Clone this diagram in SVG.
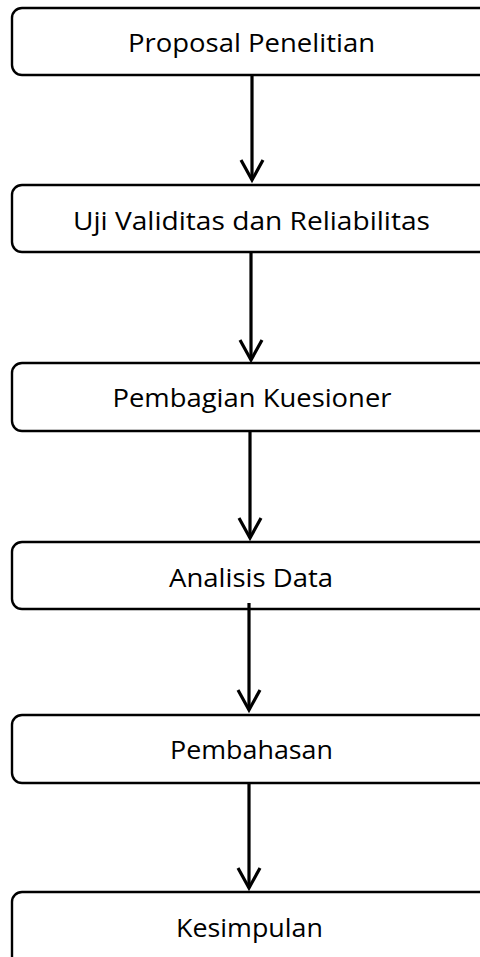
<svg xmlns="http://www.w3.org/2000/svg" width="480" height="957" viewBox="0 0 480 957">
<style>
.box{fill:#fff;stroke:#000;stroke-width:2.4}
.lbl{font-family:"Open Sans","Noto Sans","Liberation Sans",sans-serif;font-size:26px;fill:#000;text-anchor:middle}
.conn{fill:none;stroke:#000;stroke-width:3.2}
</style>
<defs>
<marker id="arr" markerUnits="userSpaceOnUse" markerWidth="30" markerHeight="30" viewBox="-25 -15 30 30" refX="0" refY="0" orient="auto">
<path d="M-20,-11 L0,0 L-20,11" fill="none" stroke="#000" stroke-width="3.2" stroke-linejoin="miter"/>
</marker>
</defs>
<rect width="480" height="957" fill="#fff"/>
<g id="n1"><rect class="box" x="12" y="8" width="490" height="67" rx="10"/><text class="lbl" x="251.5" y="52" textLength="247" lengthAdjust="spacingAndGlyphs">Proposal Penelitian</text></g>
<g id="n2"><rect class="box" x="12" y="185" width="490" height="67" rx="10"/><text class="lbl" x="251.5" y="230" textLength="357" lengthAdjust="spacingAndGlyphs">Uji Validitas dan Reliabilitas</text></g>
<g id="n3"><rect class="box" x="12" y="363" width="490" height="68" rx="10"/><text class="lbl" x="252" y="407" textLength="279" lengthAdjust="spacingAndGlyphs">Pembagian Kuesioner</text></g>
<g id="n4"><rect class="box" x="12" y="542" width="490" height="67" rx="10"/><text class="lbl" x="251" y="587" textLength="164" lengthAdjust="spacingAndGlyphs">Analisis Data</text></g>
<g id="n5"><rect class="box" x="12" y="715" width="490" height="68" rx="10"/><text class="lbl" x="251.5" y="759" textLength="163" lengthAdjust="spacingAndGlyphs">Pembahasan</text></g>
<g id="n6"><rect class="box" x="12" y="892" width="490" height="80" rx="10"/><text class="lbl" x="249.5" y="937" textLength="147" lengthAdjust="spacingAndGlyphs">Kesimpulan</text></g>
<g id="connectors">
<path class="conn" d="M252,75 V180" marker-end="url(#arr)"/>
<path class="conn" d="M251,252 V360" marker-end="url(#arr)"/>
<path class="conn" d="M250,431 V538" marker-end="url(#arr)"/>
<path class="conn" d="M249,603 V710" marker-end="url(#arr)"/>
<path class="conn" d="M249,783 V888" marker-end="url(#arr)"/>
</g>
</svg>
